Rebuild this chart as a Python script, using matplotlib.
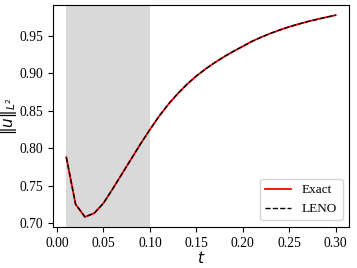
import matplotlib
matplotlib.use("Agg")
import matplotlib.pyplot as plt
import numpy as np

t = [0.01, 0.02, 0.03, 0.04, 0.05, 0.06, 0.07, 0.08, 0.09, 0.10,
     0.11, 0.12, 0.13, 0.14, 0.15, 0.16, 0.17, 0.18, 0.19, 0.20,
     0.21, 0.22, 0.23, 0.24, 0.25, 0.26, 0.27, 0.28, 0.29, 0.30]
exact = [0.788, 0.7253, 0.7084, 0.7133, 0.7267, 0.746, 0.766, 0.786, 0.806, 0.825,
         0.843, 0.859, 0.873, 0.8855, 0.8965, 0.906, 0.9145, 0.9223, 0.9295, 0.9361,
         0.9428, 0.9484, 0.9535, 0.958, 0.9622, 0.9658, 0.9692, 0.9722, 0.975, 0.9777]
leno = list(exact)
shade_range = (0.01, 0.10)
xticks = [0.00, 0.05, 0.10, 0.15, 0.20, 0.25, 0.30]
yticks = [0.70, 0.75, 0.80, 0.85, 0.90, 0.95]

fig = plt.figure(figsize=(3.57, 2.68), dpi=100)
ax = fig.add_axes([0.148, 0.153, 0.830, 0.828])
ax.axvspan(shade_range[0], shade_range[1], color='#d9d9d9', lw=0, zorder=0)
ax.plot(t, exact, color='red', lw=1.3, label='Exact')
ax.plot(t, leno, color='black', lw=1.0, ls='--', label='LENO')
ax.set_xticks(xticks)
ax.set_yticks(yticks)
ax.set_xticklabels([f"{v:.2f}" for v in xticks], fontfamily='Liberation Serif', fontsize=9.8)
ax.set_yticklabels([f"{v:.2f}" for v in yticks], fontfamily='Liberation Serif', fontsize=9.8)
ax.set_xlabel(r'$t$', fontsize=11, labelpad=0)
ax.set_ylabel(r'$\|u\|_{L^2}$', fontsize=11, labelpad=0)
ax.legend(loc='lower right', prop={'family': 'Liberation Serif', 'size': 9.5})
fig.savefig('out.png', dpi=100)
